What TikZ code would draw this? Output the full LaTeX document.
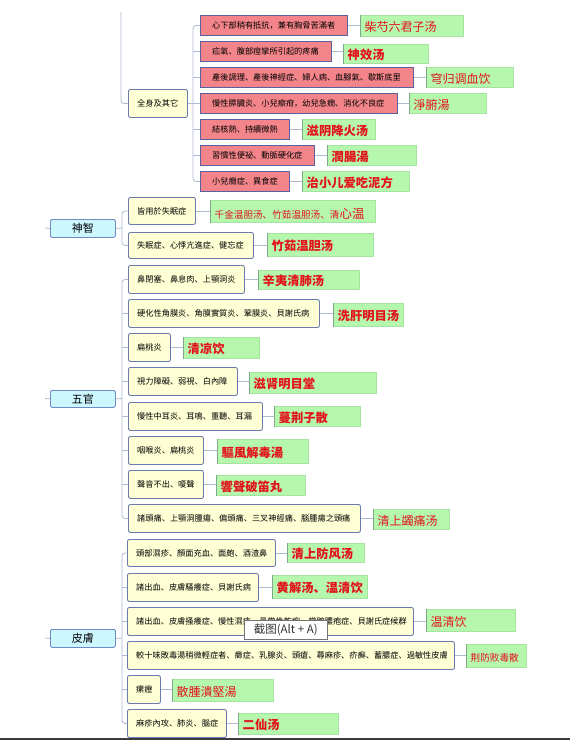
\documentclass[tikz,border=0pt]{standalone}
\usepackage{fontspec}
\newfontfamily\cjk{Noto Sans CJK SC}
\definecolor{lnc}{HTML}{AEB9D3}
\definecolor{catf}{HTML}{CDF7FF}
\definecolor{catd}{HTML}{6F8CC8}
\definecolor{yf}{HTML}{FFFFD6}
\definecolor{yd}{HTML}{6A7BB0}
\definecolor{pf}{HTML}{F2848A}
\definecolor{pd}{HTML}{5A5F9F}
\definecolor{gf}{HTML}{B6F7AE}
\definecolor{gd}{HTML}{A6E39F}
\definecolor{ge}{HTML}{7FA88A}
\definecolor{rd}{HTML}{E3121A}
\definecolor{barc}{HTML}{3C3C3C}
\newcommand\bx[8]{%
  \node[#2, minimum width={#6-#4}, minimum height={#7-#5}, anchor=north west] (#1) at (#4,#5) {};
  \node[#3, anchor=west] (#1-t) at (#1.west) {#8};}
\begin{document}
\begin{tikzpicture}[x=1pt,y=-1pt,
  conn/.style={draw=lnc, line width=0.8pt},
  catbox/.style={draw=catd, fill=catf, line width=0.8pt, rounded corners=1.5pt, inner sep=0, font={\cjk\fontsize{11}{12}\selectfont}},
  ybox/.style={draw=yd, fill=yf, line width=0.9pt, rounded corners=2pt, inner sep=0},
  pbox/.style={draw=pd, fill=pf, line width=0.9pt, inner sep=0},
  gbox/.style={draw=gd, fill=gf, line width=0.5pt, inner sep=0},
  gedge/.style={draw=ge, line width=0.7pt},
  stxt/.style={font={\cjk\fontsize{8.2}{9}\selectfont}, inner sep=0, xshift=9pt},
  ptxt/.style={font={\cjk\fontsize{8.2}{9}\selectfont}, inner sep=0, xshift=12pt},
  gtxt/.style={font={\cjk\fontsize{12}{13}\selectfont}, text=rd, inner sep=0, xshift=4.5pt, yshift=-1.5pt},
  gbold/.style={gtxt, font={\cjk\bfseries\fontsize{12.3}{13}\selectfont}},
  gsmall/.style={gtxt, font={\cjk\fontsize{9.6}{11}\selectfont}, yshift=-1pt},
  tip/.style={draw=black!55, fill=white, line width=0.6pt, inner sep=0, text=black!80, font={\cjk\fontsize{11.5}{12}\selectfont}}
]
\useasboundingbox (0,0) rectangle (570,740);
\fill[white] (0,0) rectangle (570,740);

% ---------- 全身及其它 ----------
\bx{qs}{ybox}{stxt}{128}{89}{187}{117}{全身及其它}
\bx{p1}{pbox}{ptxt}{200}{15}{347}{35}{心下部稍有抵抗，兼有胸脅苦滿者}
\bx{p2}{pbox}{ptxt}{200}{41}{331}{61}{疝氣、腹部痙攣所引起的疼痛}
\bx{p3}{pbox}{ptxt}{200}{67}{413}{87}{產後調理、產後神經症、婦人病、血腳氣、歇斯底里}
\bx{p4}{pbox}{ptxt}{200}{93}{397}{113}{慢性膵臓炎、小兒瘵疳，幼兒急癇、消化不良症}
\bx{p5}{pbox}{ptxt}{200}{119}{289}{139}{結核熱、持續微熱}
\bx{p6}{pbox}{ptxt}{200}{145}{314}{165}{習慣性便祕、動脈硬化症}
\bx{p7}{pbox}{ptxt}{200}{171}{289}{191}{小兒癇症、異食症}
\bx{g1}{gbox}{gtxt}{360}{15}{463}{36}{柴芍六君子汤}
\bx{g2}{gbox}{gbold}{343}{44}{428}{63}{神效汤}
\bx{g3}{gbox}{gtxt}{426}{67}{513}{87}{穹归调血饮}
\bx{g4}{gbox}{gtxt}{409}{93}{486}{113}{淨腑湯}
\bx{g5}{gbox}{gbold}{302}{119}{375}{139}{滋阴降火汤}
\bx{g6}{gbox}{gbold}{327}{145}{416}{165}{潤腸湯}
\bx{g7}{gbox}{gbold}{302}{171}{409}{191}{治小儿爱吃泥方}

% ---------- 神智 ----------
\node[catbox, minimum width=65pt, minimum height=18pt, anchor=north west] (sz) at (50,219) {神智};
\bx{s1}{ybox}{stxt}{128}{197}{195}{224}{皆用於失眠症}
\bx{s2}{ybox}{stxt}{128}{232}{253}{258}{失眠症、心悸亢進症、健忘症}
\bx{gs1}{gbox}{gsmall}{210}{200}{375}{222}{千金温胆汤、竹茹温胆汤、清{\fontsize{12.5}{13}\selectfont 心温}}
\bx{gs2}{gbox}{gbold}{267}{233}{373}{256}{竹茹温胆汤}

% ---------- 五官 ----------
\node[catbox, minimum width=65pt, minimum height=17pt, anchor=north west] (wg) at (50,390) {五官};
\bx{w1}{ybox}{stxt}{128}{265}{244}{293}{鼻閉塞、鼻息肉、上顎洞炎}
\bx{w2}{ybox}{stxt}{128}{299}{319}{327}{硬化性角膜炎、角膜實質炎、鞏膜炎、貝謝氏病}
\bx{w3}{ybox}{stxt}{128}{333}{170}{361}{扁桃炎}
\bx{w4}{ybox}{stxt}{128}{367}{237}{395}{視力障礙、弱視、白內障}
\bx{w5}{ybox}{stxt}{128}{402}{262}{430}{慢性中耳炎、耳鳴、重聽、耳漏}
\bx{w6}{ybox}{stxt}{128}{436}{203}{464}{咽喉炎、扁桃炎}
\bx{w7}{ybox}{stxt}{128}{470}{203}{498}{聲音不出、嗄聲}
\bx{w8}{ybox}{stxt}{128}{504}{360}{532}{諸頭痛、上顎洞腫瘍、偏頭痛、三叉神經痛、腦腫瘍之頭痛}
\bx{gw1}{gbox}{gbold}{258}{270}{359}{289}{辛夷清肺汤}
\bx{gw2}{gbox}{gbold}{333}{303}{403}{326}{洗肝明目汤}
\bx{gw3}{gbox}{gbold}{183}{337}{259}{358}{清凉饮}
\bx{gw4}{gbox}{gbold}{249}{372}{376}{393}{滋肾明目堂}
\bx{gw5}{gbox}{gbold}{274}{406}{360}{426}{蔓荆子散}
\bx{gw6}{gbox}{gbold}{217}{439}{308}{463}{驅風解毒湯}
\bx{gw7}{gbox}{gbold}{216}{475}{305}{495}{響聲破笛丸}
\bx{gw8}{gbox}{gtxt}{373}{509}{449}{529}{清上蠲痛汤}

% ---------- 皮膚 ----------
\node[catbox, minimum width=65pt, minimum height=18pt, anchor=north west] (pfu) at (50,629) {皮膚};
\bx{f1}{ybox}{stxt}{127}{539}{275}{566}{頭部濕疹、顏面充血、面皰、酒渣鼻}
\bx{f2}{ybox}{stxt}{127}{573}{258}{601}{諸出血、皮膚騷癢症、貝謝氏病}
\bx{f3}{ybox}{stxt}{127}{607}{413}{635}{諸出血、皮膚搔癢症、慢性濕疹、尋常性乾癬、掌蹠膿疱症、貝謝氏症候群}
\bx{f4}{ybox}{stxt}{127}{641}{454}{669}{較十味敗毒湯稍微輕症者、癤症、乳腺炎、頭瘡、蕁麻疹、疥癬、蓄膿症、過敏性皮膚}
\bx{f5}{ybox}{stxt}{127}{675}{160}{703}{瘰癧}
\bx{f6}{ybox}{stxt}{127}{709}{226}{737}{麻疹內攻、肺炎、腦症}
\bx{gf1}{gbox}{gbold}{287}{543}{364}{562}{清上防风汤}
\bx{gf2}{gbox}{gbold}{272}{575}{367}{598}{黄解汤、温清饮}
\bx{gf3}{gbox}{gtxt}{426}{609}{515}{631}{温清饮}
\bx{gf4}{gbox}{gsmall}{466}{644}{526}{667}{荆防败毒散}
\bx{gf5}{gbox}{gtxt}{172}{679}{273}{701}{散腫潰堅湯}
\bx{gf6}{gbox}{gbold}{238}{713}{338}{734}{二仙汤}

% green left edges
\foreach \n in {g1,g2,g3,g4,g5,g6,g7,gs1,gs2,gw1,gw2,gw3,gw4,gw5,gw6,gw7,gw8,gf1,gf2,gf3,gf4,gf5,gf6}
  \draw[gedge] (\n.north west) -- (\n.south west);

% ---------- connectors ----------
\coordinate (topc) at (121,12);
\draw[conn, rounded corners=3pt] (topc) |- (qs.west);
\coordinate (bq) at (193,103);
\draw[conn] (qs.east) -- (qs.east -| bq);
\draw[conn, rounded corners=3pt] (p1.west) -| (bq |- p7.west) -- (p7.west);
\foreach \c in {p2,p3,p4,p5,p6} \draw[conn] (\c.west) -- (\c.west -| bq);
\foreach \a/\b in {p1/g1,p2/g2,p3/g3,p4/g4,p5/g5,p6/g6,p7/g7} \draw[conn] (\a.east) -- (\a.east -| \b.west);

\coordinate (cz1) at (45,228);
\coordinate (cz2) at (45,398.5);
\coordinate (cz3) at (45,638);
\draw[conn] (cz1) -- (sz.west);
\draw[conn] (cz2) -- (wg.west);
\draw[conn] (cz3) -- (pfu.west);

\coordinate (bs) at (122,228);
\draw[conn] (sz.east) -- (bs);
\draw[conn, rounded corners=3pt] (s1.west) -| (bs |- s2.west) -- (s2.west);
\foreach \a/\b in {s1/gs1,s2/gs2} \draw[conn] (\a.east) -- (\a.east -| \b.west);

\coordinate (bw) at (122,398.5);
\draw[conn] (wg.east) -- (bw);
\draw[conn, rounded corners=3pt] (w1.west) -| (bw |- w8.west) -- (w8.west);
\foreach \c in {w2,w3,w4,w5,w6,w7} \draw[conn] (\c.west) -- (\c.west -| bw);
\foreach \a/\b in {w1/gw1,w2/gw2,w3/gw3,w4/gw4,w5/gw5,w6/gw6,w7/gw7,w8/gw8} \draw[conn] (\a.east) -- (\a.east -| \b.west);

\coordinate (bf) at (122,638);
\draw[conn] (pfu.east) -- (bf);
\draw[conn, rounded corners=3pt] (f1.west) -| (bf |- f6.west) -- (f6.west);
\foreach \c in {f2,f3,f4,f5} \draw[conn] (\c.west) -- (\c.west -| bf);
\foreach \a/\b in {f1/gf1,f2/gf2,f3/gf3,f4/gf4,f5/gf5,f6/gf6} \draw[conn] (\a.east) -- (\a.east -| \b.west);

% tooltip overlay
\node[tip, minimum width=83pt, minimum height=19pt, anchor=north west] (tt) at (244,620) {截图(Alt + A)};

% bottom bar
\fill[barc] (0,737.5) rectangle (570,740);
\end{tikzpicture}
\end{document}
